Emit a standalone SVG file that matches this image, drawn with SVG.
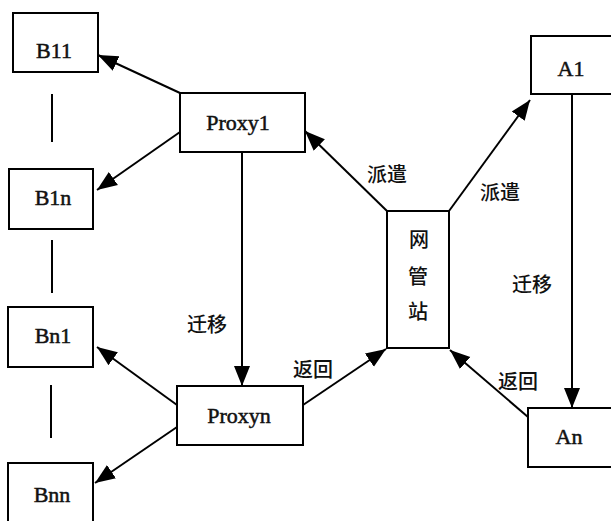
<svg xmlns="http://www.w3.org/2000/svg" width="611" height="521" viewBox="0 0 611 521">
<style>
.box{fill:#fff;stroke:#000;stroke-width:2}
.lbl{font-family:"Liberation Serif",serif;font-size:22px;fill:#111;stroke:#111;stroke-width:0.5;text-anchor:middle}
.cjk{font-family:"Noto Sans CJK SC",sans-serif;font-size:20px;font-weight:500;fill:#111;text-anchor:middle}
.ln{stroke:#000;stroke-width:2;fill:none}
.arr{stroke:#000;stroke-width:2;fill:none;marker-end:url(#ah)}
</style>
<defs>
<marker id="ah" markerUnits="userSpaceOnUse" markerWidth="22" markerHeight="18" refX="20" refY="9" orient="auto">
<path d="M0,1 L20,9 L0,17 Z" fill="#000"/>
</marker>
</defs>
<rect width="611" height="521" fill="#fff"/>
<g id="B11"><rect class="box" x="13" y="13" width="85" height="59"/><text class="lbl" x="54" y="58">B11</text></g>
<g id="B1n"><rect class="box" x="9" y="169" width="84" height="60"/><text class="lbl" x="53" y="205">B1n</text></g>
<g id="Bn1"><rect class="box" x="8" y="307" width="85" height="60"/><text class="lbl" x="53" y="343">Bn1</text></g>
<g id="Bnn"><rect class="box" x="8" y="463" width="85" height="70"/><text class="lbl" x="52" y="502">Bnn</text></g>
<g id="Proxy1"><rect class="box" x="180" y="93" width="125" height="59"/><text class="lbl" x="238" y="130">Proxy1</text></g>
<g id="Proxyn"><rect class="box" x="177" y="386" width="126" height="59"/><text class="lbl" x="239" y="423">Proxyn</text></g>
<g id="A1"><rect class="box" x="531" y="36" width="90" height="58"/><text class="lbl" x="571" y="76">A1</text></g>
<g id="An"><rect class="box" x="528" y="408" width="95" height="59"/><text class="lbl" x="569" y="444">An</text></g>
<g id="nms"><rect class="box" x="387" y="211" width="62" height="137"/>
<text class="cjk" x="419" y="247">网</text><text class="cjk" x="418" y="284">管</text><text class="cjk" x="418" y="319">站</text></g>
<g id="connectors">
<line class="ln" x1="52" y1="94" x2="52" y2="142"/>
<line class="ln" x1="52" y1="240" x2="52" y2="293"/>
<line class="ln" x1="51" y1="385" x2="51" y2="438"/>
<line class="arr" x1="180" y1="93" x2="98" y2="55"/>
<line class="arr" x1="180" y1="132" x2="97" y2="190"/>
<line class="arr" x1="242" y1="152" x2="242" y2="386"/>
<line class="arr" x1="387" y1="211" x2="305" y2="131"/>
<line class="arr" x1="449" y1="211" x2="530" y2="100"/>
<line class="arr" x1="303" y1="405" x2="386" y2="349"/>
<line class="arr" x1="528" y1="417" x2="450" y2="350"/>
<line class="arr" x1="572" y1="94" x2="572" y2="408"/>
<line class="arr" x1="177" y1="405" x2="97" y2="347"/>
<line class="arr" x1="177" y1="427" x2="95" y2="483"/>
</g>
<g id="labels">
<text class="cjk" x="387" y="182">派遣</text>
<text class="cjk" x="500" y="200">派遣</text>
<text class="cjk" x="207" y="332">迁移</text>
<text class="cjk" x="532" y="292">迁移</text>
<text class="cjk" x="313" y="377">返回</text>
<text class="cjk" x="518" y="389">返回</text>
</g>
</svg>
